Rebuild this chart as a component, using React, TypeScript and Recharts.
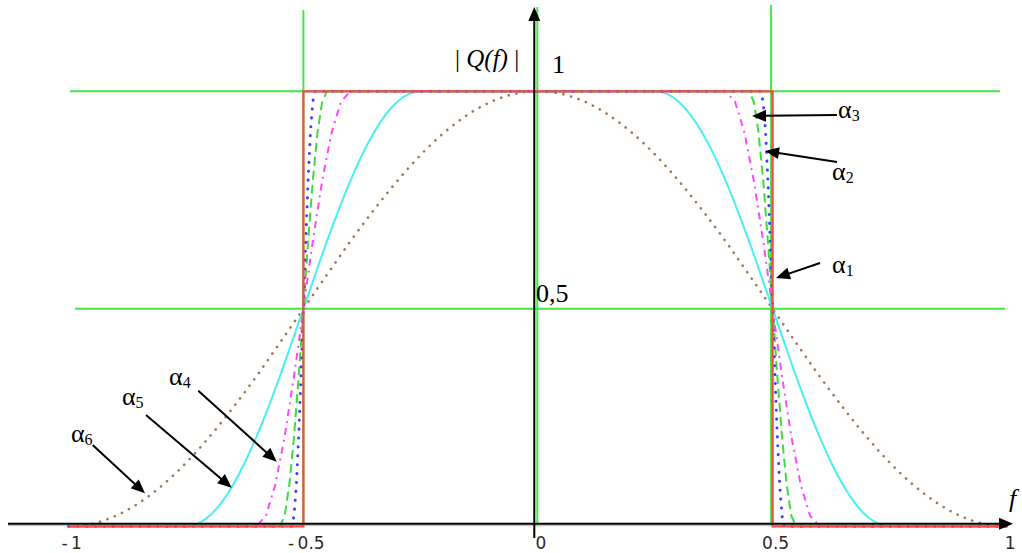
import React from 'react';
import { LineChart, Line, XAxis, YAxis, ReferenceLine, ReferenceDot } from 'recharts';

// |Q(f)| of the raised-cosine spectrum for six roll-off factors α1 … α6

// α1 — ideal rectangular spectrum
const alpha1Freq = [-1, -0.5, -0.5, 0.5, 0.5, 1];
const alpha1Mag = [0, 0, 1, 1, 0, 0];

// α2
const alpha2Freq = [
  -1, -0.525, -0.52, -0.515, -0.51, -0.505, -0.5, -0.495, -0.49, -0.485, -0.48, -0.475,
  0.475, 0.48, 0.485, 0.49, 0.495, 0.5, 0.505, 0.51, 0.515, 0.52, 0.525, 1,
];
const alpha2Mag = [
  0, 0, 0.024, 0.095, 0.206, 0.345, 0.5, 0.655, 0.794, 0.905, 0.976, 1,
  1, 0.976, 0.905, 0.794, 0.655, 0.5, 0.345, 0.206, 0.095, 0.024, 0, 0,
];

// α3
const alpha3Freq = [
  -1, -0.55, -0.54, -0.53, -0.52, -0.51, -0.5, -0.49, -0.48, -0.47, -0.46, -0.45,
  0.45, 0.46, 0.47, 0.48, 0.49, 0.5, 0.51, 0.52, 0.53, 0.54, 0.55, 1,
];
const alpha3Mag = [
  0, 0, 0.024, 0.095, 0.206, 0.345, 0.5, 0.655, 0.794, 0.905, 0.976, 1,
  1, 0.976, 0.905, 0.794, 0.655, 0.5, 0.345, 0.206, 0.095, 0.024, 0, 0,
];

// α4
const alpha4Freq = [
  -1, -0.6, -0.58, -0.56, -0.54, -0.52, -0.5, -0.48, -0.46, -0.44, -0.42, -0.4,
  0.4, 0.42, 0.44, 0.46, 0.48, 0.5, 0.52, 0.54, 0.56, 0.58, 0.6, 1,
];
const alpha4Mag = [
  0, 0, 0.024, 0.095, 0.206, 0.345, 0.5, 0.655, 0.794, 0.905, 0.976, 1,
  1, 0.976, 0.905, 0.794, 0.655, 0.5, 0.345, 0.206, 0.095, 0.024, 0, 0,
];

// α5
const alpha5Freq = [
  -1, -0.75, -0.725, -0.7, -0.675, -0.65, -0.625, -0.6, -0.575, -0.55, -0.525, -0.5,
  -0.475, -0.45, -0.425, -0.4, -0.375, -0.35, -0.325, -0.3, -0.275, -0.25,
  0.25, 0.275, 0.3, 0.325, 0.35, 0.375, 0.4, 0.425, 0.45, 0.475, 0.5,
  0.525, 0.55, 0.575, 0.6, 0.625, 0.65, 0.675, 0.7, 0.725, 0.75, 1,
];
const alpha5Mag = [
  0, 0, 0.006, 0.024, 0.054, 0.095, 0.146, 0.206, 0.273, 0.345, 0.422, 0.5,
  0.578, 0.655, 0.727, 0.794, 0.854, 0.905, 0.946, 0.976, 0.994, 1,
  1, 0.994, 0.976, 0.946, 0.905, 0.854, 0.794, 0.727, 0.655, 0.578, 0.5,
  0.422, 0.345, 0.273, 0.206, 0.146, 0.095, 0.054, 0.024, 0.006, 0, 0,
];

// α6
const alpha6Freq = [
  -1, -0.95, -0.9, -0.85, -0.8, -0.75, -0.7, -0.65, -0.6, -0.55, -0.5,
  -0.45, -0.4, -0.35, -0.3, -0.25, -0.2, -0.15, -0.1, -0.05, 0,
  0.05, 0.1, 0.15, 0.2, 0.25, 0.3, 0.35, 0.4, 0.45, 0.5,
  0.55, 0.6, 0.65, 0.7, 0.75, 0.8, 0.85, 0.9, 0.95, 1,
];
const alpha6Mag = [
  0, 0.006, 0.024, 0.054, 0.095, 0.146, 0.206, 0.273, 0.345, 0.422, 0.5,
  0.578, 0.655, 0.727, 0.794, 0.854, 0.905, 0.946, 0.976, 0.994, 1,
  0.994, 0.976, 0.946, 0.905, 0.854, 0.794, 0.727, 0.655, 0.578, 0.5,
  0.422, 0.345, 0.273, 0.206, 0.146, 0.095, 0.054, 0.024, 0.006, 0,
];

// frequency axis
const freqTicks = [-1, -0.5, 0, 0.5, 1];
const freqTickLabels = ['-\u20091', '-\u20090.5', '0', '0.5', '1'];

const toPoints = (fs: number[], qs: number[]) => fs.map((f, i) => ({ f, q: qs[i] }));

const WIDTH = 1022;
const HEIGHT = 553;
const X_DOMAIN: [number, number] = [-1.1466, 1.0315];
const Y_DOMAIN: [number, number] = [-0.0039, 1.2099];

const SERIF = "'Liberation Serif', 'Times New Roman', Times, serif";
const SANS = "'DejaVu Sans', Verdana, sans-serif";

type Seg = { x1: number; y1: number; x2: number; y2: number };

function arrowShape(head: number, half: number, width: number) {
  return (p: any) => {
    const { x1, y1, x2, y2 } = p as Seg;
    const dx = x2 - x1;
    const dy = y2 - y1;
    const len = Math.hypot(dx, dy) || 1;
    const ux = dx / len;
    const uy = dy / len;
    const bx = x2 - ux * head;
    const by = y2 - uy * head;
    const px = -uy * half;
    const py = ux * half;
    return (
      <g>
        <line x1={x1} y1={y1} x2={bx + ux * 2} y2={by + uy * 2} stroke="#000" strokeWidth={width} />
        <polygon points={`${x2},${y2} ${bx + px},${by + py} ${bx - px},${by - py}`} fill="#000" />
      </g>
    );
  };
}

const pointerArrow = arrowShape(14, 6, 2);
const axisArrow = arrowShape(14, 6, 2);

function alphaLabel(index: string) {
  return (p: any) => (
    <text x={p.cx} y={p.cy} style={{ fontFamily: SERIF, fontSize: 26 }} fill="#000">
      α<tspan style={{ fontSize: 16 }} dy={3}>{index}</tspan>
    </text>
  );
}

function plainLabel(content: React.ReactNode, size = 26) {
  return (p: any) => (
    <text x={p.cx} y={p.cy} style={{ fontFamily: SERIF, fontSize: size }} fill="#000">
      {content}
    </text>
  );
}

// annotation arrows: [index, fromF, fromQ, toF, toQ]
const alphaArrows: [string, number, number, number, number][] = [
  ['3', 0.6373, 0.9455, 0.4561, 0.9432],
  ['2', 0.6373, 0.8375, 0.4838, 0.8628],
  ['1', 0.601, 0.6053, 0.5072, 0.5708],
  ['4', -0.724, 0.3117, -0.5569, 0.1485],
  ['5', -0.8355, 0.2559, -0.6528, 0.0887],
  ['6', -0.9491, 0.1869, -0.8376, 0.0759],
];
// annotation labels: [index, f, q]
const alphaLabels: [string, number, number][] = [
  ['3', 0.6394, 0.9386],
  ['2', 0.6266, 0.7961],
  ['1', 0.6266, 0.5823],
  ['4', -0.7864, 0.3248],
  ['5', -0.8866, 0.2789],
  ['6', -0.9953, 0.1938],
];

const GREEN = '#45e645';

export default function App() {
  const tick = (p: any) => {
    const idx = freqTicks.indexOf(p.payload.value);
    return (
      <text
        x={p.x + 3}
        y={p.y + 13}
        textAnchor="middle"
        style={{ fontFamily: SANS, fontSize: 17 }}
        fill="#2a2a2a"
      >
        {freqTickLabels[idx]}
      </text>
    );
  };

  return (
    <div style={{ position: 'absolute', left: 0, top: 0, width: WIDTH, height: HEIGHT, background: '#fff' }}>
      <LineChart width={WIDTH} height={HEIGHT} margin={{ top: 0, right: 0, bottom: 0, left: 0 }}>
        <XAxis
          type="number"
          dataKey="f"
          domain={X_DOMAIN}
          allowDataOverflow
          ticks={freqTicks}
          interval={0}
          axisLine={false}
          tickLine={false}
          height={25}
          tick={tick}
        />
        <YAxis type="number" dataKey="q" domain={Y_DOMAIN} allowDataOverflow hide />

        {/* green guide lines */}
        <ReferenceLine ifOverflow="visible" stroke={GREEN} strokeWidth={2}
          segment={[{ x: -0.9974, y: 1 }, { x: 0.9846, y: 1 }]} />
        <ReferenceLine ifOverflow="visible" stroke={GREEN} strokeWidth={2}
          segment={[{ x: -0.9868, y: 0.5 }, { x: 0.9953, y: 0.5 }]} />
        <ReferenceLine ifOverflow="visible" stroke={GREEN} strokeWidth={2}
          segment={[{ x: -0.5, y: 0 }, { x: -0.5, y: 1.1869 }]} />
        <ReferenceLine ifOverflow="visible" stroke={GREEN} strokeWidth={2}
          segment={[{ x: -0.0015, y: 0 }, { x: -0.0015, y: 1.1938 }]} />
        <ReferenceLine ifOverflow="visible" stroke={GREEN} strokeWidth={2}
          segment={[{ x: 0.4967, y: 0 }, { x: 0.4967, y: 1.1984 }]} />
        <ReferenceLine ifOverflow="visible" stroke="#c4c4c4" strokeWidth={1.5}
          segment={[{ x: -1.1296, y: 0.002 }, { x: 0.99, y: 0.002 }]} />

        {/* spectra */}
        <Line data={toPoints(alpha6Freq, alpha6Mag)} dataKey="q" type="monotone" stroke="#a3764f"
          strokeWidth={2.6} strokeDasharray="0.1 7.8" strokeLinecap="round" dot={false} activeDot={false}
          isAnimationActive={false} />
        <Line data={toPoints(alpha5Freq, alpha5Mag)} dataKey="q" type="monotone" stroke="#45f0f0"
          strokeWidth={2} dot={false} activeDot={false} isAnimationActive={false} />
        <Line data={toPoints(alpha4Freq, alpha4Mag)} dataKey="q" type="linear" stroke="#ff45ff"
          strokeWidth={2} strokeDasharray="7 5 2 5" dot={false} activeDot={false} isAnimationActive={false} />
        <Line data={toPoints(alpha3Freq, alpha3Mag)} dataKey="q" type="linear" stroke="#3ddc3d"
          strokeWidth={2} strokeDasharray="9 5" dot={false} activeDot={false} isAnimationActive={false} />
        <Line data={toPoints(alpha2Freq, alpha2Mag)} dataKey="q" type="linear" stroke="#3c3cff"
          strokeWidth={3} strokeDasharray="0.1 8.8" strokeLinecap="round" dot={false} activeDot={false}
          isAnimationActive={false} />
        <Line data={toPoints(alpha1Freq, alpha1Mag)} dataKey="q" type="linear" stroke="#ff4545"
          strokeWidth={2.2} dot={false} activeDot={false} isAnimationActive={false} />

        {/* coordinate axes */}
        <ReferenceLine ifOverflow="visible" shape={axisArrow}
          segment={[{ x: -1.1296, y: 0.006 }, { x: 1.0124, y: 0.006 }]} />
        <ReferenceLine ifOverflow="visible" shape={axisArrow}
          segment={[{ x: -0.0079, y: -0.0269 }, { x: -0.0079, y: 1.1938 }]} />

        {/* roll-off pointers */}
        {alphaArrows.map(([k, f1, q1, f2, q2]) => (
          <ReferenceLine key={`arrow-${k}`} ifOverflow="visible" shape={pointerArrow}
            segment={[{ x: f1, y: q1 }, { x: f2, y: q2 }]} />
        ))}
        {alphaLabels.map(([k, f, q]) => (
          <ReferenceDot key={`label-${k}`} x={f} y={q} r={1} ifOverflow="visible" shape={alphaLabel(k)} />
        ))}

        {/* axis captions */}
        <ReferenceDot x={-0.1769} y={1.0564} r={1} ifOverflow="visible"
          shape={plainLabel(<>{'| '}<tspan style={{ fontStyle: 'italic' }}>Q(f)</tspan>{' |'}</>, 25)} />
        <ReferenceDot x={0.0298} y={1.0421} r={1} ifOverflow="visible" shape={plainLabel('1')} />
        <ReferenceDot x={-0.0043} y={0.5157} r={1} ifOverflow="visible" shape={plainLabel('0,5')} />
        <ReferenceDot x={1.0039} y={0.0444} r={1} ifOverflow="visible"
          shape={plainLabel(<tspan style={{ fontStyle: 'italic' }}>f</tspan>)} />
      </LineChart>
    </div>
  );
}
